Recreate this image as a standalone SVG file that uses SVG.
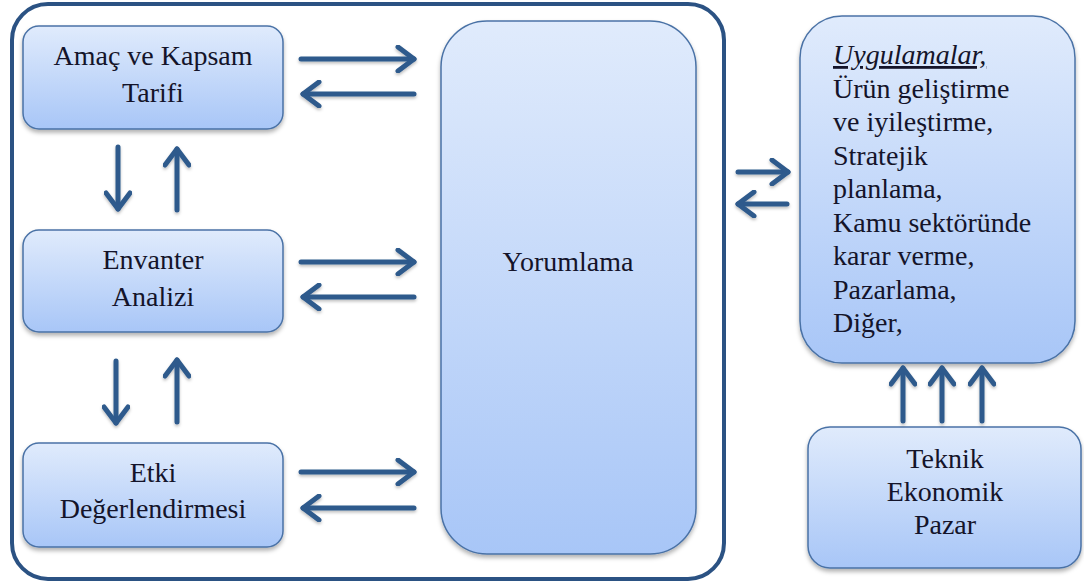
<svg xmlns="http://www.w3.org/2000/svg" width="1084" height="585" viewBox="0 0 1084 585">
  <defs>
    <linearGradient id="boxFill" x1="0" y1="0" x2="0" y2="1">
      <stop offset="0" stop-color="#e0ebfc"/>
      <stop offset="1" stop-color="#a8c6f7"/>
    </linearGradient>
    <filter id="shadow" x="-10%" y="-10%" width="120%" height="130%">
      <feDropShadow dx="0" dy="3" stdDeviation="2" flood-color="#000" flood-opacity="0.3"/>
    </filter>
    <!-- user-space region so zero-height lines still get a shadow -->
    <filter id="arrowShadow" filterUnits="userSpaceOnUse" x="0" y="0" width="1084" height="585">
      <feDropShadow dx="0" dy="2" stdDeviation="1.5" flood-color="#000" flood-opacity="0.25"/>
    </filter>
    <marker id="chevron" viewBox="-20 -14 24 28" markerWidth="24" markerHeight="28" refX="0" refY="0" orient="auto" markerUnits="userSpaceOnUse">
      <path d="M-16,-12 L0,0 L-16,12" fill="none" stroke="#2f5a8c" stroke-width="5" stroke-linecap="round" stroke-linejoin="round"/>
    </marker>
  </defs>
  <style>
    .box { fill: url(#boxFill); stroke: #4a72a6; stroke-width: 1.5; filter: url(#shadow); }
    .frame { fill: none; stroke: #2b5283; stroke-width: 4; }
    .mid { text-anchor: middle; }
    .conn { filter: url(#arrowShadow); }
    .conn line { stroke: #2f5a8c; stroke-width: 5; stroke-linecap: round; marker-end: url(#chevron); }
  </style>

  <rect width="1084" height="585" fill="#ffffff"/>

  <!-- outer frame around the assessment phases -->
  <rect id="frame" class="frame" x="12" y="4" width="712" height="575" rx="36"/>

  <g font-family="Liberation Serif, Times New Roman, DejaVu Serif, serif" font-size="28" fill="#14142a">
    <g id="amac">
      <rect class="box" x="23" y="26" width="260" height="103" rx="16"/>
      <text class="mid" x="153" y="65">Amaç ve Kapsam</text>
      <text class="mid" x="153" y="102">Tarifi</text>
    </g>

    <g id="envanter">
      <rect class="box" x="23" y="230" width="260" height="102" rx="16"/>
      <text class="mid" x="153" y="269">Envanter</text>
      <text class="mid" x="153" y="306">Analizi</text>
    </g>

    <g id="etki">
      <rect class="box" x="23" y="443" width="260" height="104" rx="16"/>
      <text class="mid" x="153" y="482">Etki</text>
      <text class="mid" x="153" y="518">Değerlendirmesi</text>
    </g>

    <g id="yorumlama">
      <rect class="box" x="441" y="21" width="255" height="533" rx="46"/>
      <text class="mid" x="568" y="271">Yorumlama</text>
    </g>

    <g id="uygulamalar">
      <rect class="box" x="800" y="16" width="275" height="347" rx="42"/>
      <text x="833" y="64" font-style="italic" text-decoration="underline">Uygulamalar,</text>
      <text x="833" y="97.5">Ürün geliştirme</text>
      <text x="833" y="131">ve iyileştirme,</text>
      <text x="833" y="164.5">Stratejik</text>
      <text x="833" y="198">planlama,</text>
      <text x="833" y="231.5">Kamu sektöründe</text>
      <text x="833" y="265">karar verme,</text>
      <text x="833" y="298.5">Pazarlama,</text>
      <text x="833" y="332">Diğer,</text>
    </g>

    <g id="teknik">
      <rect class="box" x="808" y="427" width="273" height="141" rx="22"/>
      <text class="mid" x="945" y="468">Teknik</text>
      <text class="mid" x="945" y="501">Ekonomik</text>
      <text class="mid" x="945" y="534">Pazar</text>
    </g>
  </g>

  <g id="connectors" class="conn">
    <!-- phases to and from Yorumlama -->
    <line x1="301" y1="59" x2="414" y2="59"/>
    <line x1="414" y1="94" x2="303" y2="94"/>
    <line x1="301" y1="262" x2="414" y2="262"/>
    <line x1="414" y1="297" x2="303" y2="297"/>
    <line x1="301" y1="472" x2="414" y2="472"/>
    <line x1="414" y1="508" x2="303" y2="508"/>
    <!-- between phases -->
    <line x1="118" y1="147" x2="118" y2="209"/>
    <line x1="177" y1="210" x2="177" y2="149"/>
    <line x1="116" y1="361" x2="116" y2="423"/>
    <line x1="177" y1="422" x2="177" y2="360"/>
    <!-- frame to and from Uygulamalar -->
    <line x1="738" y1="172" x2="788" y2="172"/>
    <line x1="787" y1="204" x2="738" y2="204"/>
    <!-- Teknik / Ekonomik / Pazar up to Uygulamalar -->
    <line x1="903" y1="421" x2="903" y2="368"/>
    <line x1="942" y1="421" x2="942" y2="368"/>
    <line x1="982" y1="421" x2="982" y2="368"/>
  </g>
</svg>
